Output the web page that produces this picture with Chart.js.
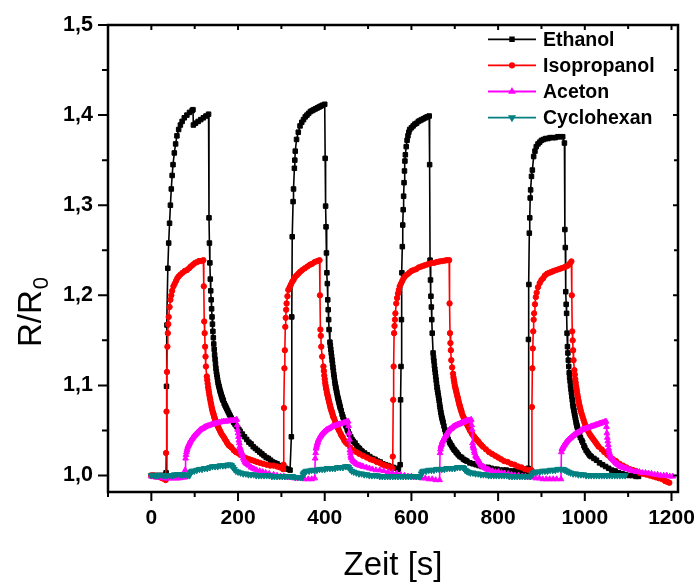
<!DOCTYPE html>
<html><head><meta charset="utf-8">
<script src="https://cdn.jsdelivr.net/npm/chart.js@4.4.0/dist/chart.umd.min.js"></script>
<style>html,body{margin:0;padding:0;background:#fff;}#wrap{width:698px;height:583px;}</style>
</head><body><div id="wrap"><canvas id="c" width="698" height="583"></canvas></div>
<script>
const xTicks=[0,200,400,600,800,1000,1200];
const xMinorTicks=[-100,100,300,500,700,900,1100];
const yTicks=[1.0,1.1,1.2,1.3,1.4,1.5];
const yMinorTicks=[1.05,1.15,1.25,1.35,1.45];
const seriesNames=['Ethanol','Isopropanol','Aceton','Cyclohexan'];
const xTitle='Zeit [s]';

// Ethanol: [time s, R/R0]
const ethanol=[[0,1.0],[5,1.0],[10,1.0],[15,1.0],[20,1.0],[25,1.0],[30,1.0],[34,1.003],[35,1.099],[36,1.167],[38,1.23],[40,1.258],[42,1.28],[44,1.3],[46,1.318],[48,1.333],[50,1.345],[53,1.358],[56,1.368],[59,1.377],[63,1.384],[67,1.389],[71,1.393],[76,1.397],[82,1.4],[88,1.403],[94,1.405],[96,1.406],[97,1.389],[102,1.391],[108,1.393],[114,1.395],[120,1.397],[126,1.399],[132,1.401],
[133,1.286],[134,1.258],[135,1.236],[136,1.218],[137,1.205],[138,1.195],[139,1.185],[140,1.176],[141,1.168],[142,1.16],[143,1.153],[144,1.146],[145,1.14],[146,1.134],[147,1.129],[148,1.124],[149,1.119],[150,1.115],[151,1.112],[152,1.109],[153,1.106],[154,1.103],[155,1.101],[156,1.099],[157,1.097],[158,1.095],[159,1.093],[160,1.092],[161,1.09],[162,1.088],[163,1.087],[164,1.085],[165,1.084],[166,1.083],[168,1.08],[170,1.078],[172,1.076],[174,1.074],[176,1.072],[178,1.07],[180,1.068],[182,1.066],[184,1.064],[186,1.062],[188,1.061],[190,1.059],[193,1.057],[196,1.055],[199,1.053],[202,1.051],[205,1.049],[210,1.046],[215,1.043],[220,1.04],[225,1.037],[230,1.035],[235,1.032],[240,1.03],[245,1.028],[250,1.026],[255,1.024],[260,1.022],[265,1.02],[270,1.019],[275,1.017],[280,1.015],[285,1.014],[290,1.013],[295,1.011],[300,1.01],[305,1.009],[310,1.008],[315,1.007],[320,1.006],
[323,1.043],[324,1.176],[325,1.265],[327,1.304],[328,1.318],[330,1.341],[331,1.35],[332,1.36],[335,1.373],[339,1.381],[343,1.388],[347,1.392],[351,1.395],[355,1.398],[359,1.4],[363,1.402],[367,1.404],[371,1.405],[375,1.406],[379,1.407],[383,1.408],[387,1.409],[391,1.41],[395,1.411],[400,1.412],
[401,1.352],[402,1.299],[403,1.276],[404,1.247],[405,1.225],[406,1.213],[407,1.195],[408,1.184],[409,1.173],[410,1.162],[412,1.148],[413,1.144],[414,1.14],[415,1.136],[416,1.132],[417,1.128],[418,1.124],[419,1.12],[420,1.116],[421,1.112],[422,1.109],[423,1.105],[424,1.102],[425,1.099],[426,1.097],[427,1.094],[428,1.092],[429,1.089],[430,1.087],[431,1.085],[432,1.083],[433,1.081],[434,1.079],[435,1.077],[436,1.075],[438,1.072],[440,1.068],[442,1.065],[444,1.062],[446,1.059],[448,1.056],[450,1.054],[452,1.051],[454,1.049],[457,1.046],[460,1.043],[463,1.04],[466,1.038],[470,1.036],[474,1.033],[477,1.031],[480,1.03],[483,1.028],[486,1.027],[492,1.025],[498,1.023],[504,1.021],[510,1.019],[516,1.018],[522,1.016],[528,1.015],[534,1.013],[540,1.012],[546,1.011],[552,1.01],[558,1.009],[564,1.008],[570,1.007],
[574,1.012],[575,1.084],[576,1.121],[577,1.173],[578,1.225],[579,1.254],[580,1.278],[581,1.295],[582,1.31],[583,1.325],[584,1.338],[585,1.349],[586,1.356],[588,1.365],[590,1.372],[592,1.377],[594,1.381],[596,1.384],[600,1.386],[604,1.388],[608,1.39],[612,1.391],[616,1.393],[620,1.394],[624,1.395],[628,1.396],[632,1.397],[636,1.398],[641,1.399],
[642,1.345],[643,1.239],[644,1.217],[645,1.199],[646,1.187],[647,1.173],[648,1.158],[650,1.136],[651,1.131],[652,1.127],[653,1.122],[654,1.118],[655,1.114],[656,1.11],[657,1.106],[658,1.102],[659,1.098],[660,1.095],[661,1.092],[662,1.089],[663,1.086],[664,1.083],[665,1.079],[666,1.076],[667,1.073],[668,1.07],[669,1.067],[670,1.065],[671,1.063],[672,1.061],[673,1.059],[675,1.055],[677,1.051],[679,1.048],[681,1.045],[683,1.042],[685,1.04],[688,1.037],[690,1.035],[693,1.033],[695,1.031],[698,1.029],[700,1.028],[703,1.026],[705,1.025],[708,1.023],[712,1.021],[716,1.02],[720,1.018],[724,1.017],[728,1.016],[735,1.014],[742,1.013],[749,1.012],[756,1.011],[763,1.01],[770,1.009],[777,1.009],[784,1.008],[791,1.007],[798,1.007],[805,1.006],[812,1.006],[819,1.006],[826,1.005],[833,1.005],[840,1.005],[847,1.005],[854,1.004],[861,1.004],[868,1.004],
[869,1.008],[870,1.151],[871,1.212],[872,1.269],[873,1.286],[874,1.308],[875,1.317],[877,1.332],[879,1.339],[882,1.354],[885,1.36],[888,1.365],[892,1.368],[896,1.37],[900,1.372],[905,1.373],[910,1.374],[915,1.374],[920,1.375],[926,1.375],[932,1.375],[938,1.376],[944,1.376],[949,1.376],[953,1.369],
[954,1.273],[955,1.253],[956,1.204],[957,1.19],[958,1.18],[959,1.158],[960,1.143],[961,1.136],[962,1.128],[963,1.121],[964,1.114],[965,1.109],[966,1.105],[967,1.1],[968,1.096],[969,1.092],[970,1.088],[971,1.084],[972,1.08],[973,1.077],[974,1.075],[975,1.072],[976,1.069],[977,1.067],[978,1.064],[979,1.062],[980,1.059],[981,1.057],[982,1.055],[983,1.053],[984,1.051],[986,1.048],[988,1.045],[990,1.042],[993,1.039],[995,1.037],[998,1.033],[1000,1.031],[1003,1.028],[1006,1.026],[1009,1.024],[1012,1.022],[1015,1.021],[1021,1.019],[1027,1.017],[1034,1.014],[1041,1.012],[1048,1.01],[1055,1.008],[1062,1.006],[1070,1.005],[1078,1.003],[1086,1.002],[1094,1.001],[1102,1.0],[1110,1.0],[1118,0.999],[1124,0.999]];

const isopropanol=[[0,1.0],[5,1.0],[10,0.999],[15,0.999],[20,0.998],[25,0.997],[30,0.996],[33,0.995],[34,1.025],[35,1.071],[36,1.115],[37,1.143],[38,1.158],[39,1.168],[40,1.176],[42,1.187],[44,1.195],[46,1.2],[48,1.205],[51,1.21],[54,1.213],[57,1.216],[60,1.219],[63,1.221],[67,1.223],[72,1.225],[77,1.227],[82,1.228],[87,1.23],[91,1.232],[96,1.234],[101,1.236],[106,1.237],[110,1.238],[115,1.238],[120,1.239],
[121,1.21],[122,1.171],[123,1.158],[124,1.143],[125,1.132],[126,1.121],[128,1.11],[129,1.106],[130,1.102],[131,1.098],[132,1.095],[133,1.092],[134,1.089],[135,1.086],[136,1.084],[137,1.081],[138,1.079],[139,1.076],[140,1.074],[141,1.072],[142,1.07],[143,1.069],[144,1.067],[145,1.065],[146,1.064],[147,1.062],[148,1.061],[149,1.059],[150,1.058],[152,1.056],[154,1.054],[156,1.052],[158,1.05],[160,1.048],[162,1.046],[165,1.044],[168,1.042],[170,1.04],[173,1.038],[175,1.036],[178,1.034],[180,1.033],[183,1.032],[185,1.031],[190,1.028],[195,1.026],[200,1.025],[205,1.023],[210,1.022],[215,1.02],[220,1.019],[226,1.018],[232,1.017],[238,1.016],[244,1.015],[251,1.014],[258,1.013],[266,1.012],[274,1.011],[282,1.011],[290,1.01],[297,1.009],[304,1.007],
[305,1.012],[306,1.075],[307,1.119],[308,1.139],[309,1.165],[310,1.175],[311,1.184],[312,1.191],[314,1.199],[316,1.206],[319,1.209],[322,1.212],[325,1.215],[328,1.217],[331,1.22],[335,1.222],[339,1.224],[343,1.226],[348,1.228],[354,1.23],[360,1.232],[366,1.234],[371,1.235],[377,1.237],[383,1.238],[388,1.239],
[389,1.2],[390,1.162],[391,1.155],[392,1.143],[394,1.132],[397,1.121],[398,1.116],[399,1.111],[400,1.107],[401,1.103],[402,1.1],[403,1.097],[404,1.095],[405,1.092],[406,1.09],[407,1.088],[408,1.086],[409,1.084],[410,1.082],[411,1.08],[412,1.078],[413,1.076],[414,1.074],[415,1.073],[416,1.071],[417,1.07],[418,1.068],[419,1.066],[420,1.065],[422,1.063],[424,1.06],[426,1.058],[428,1.055],[430,1.053],[432,1.051],[434,1.049],[437,1.046],[439,1.044],[442,1.042],[445,1.039],[448,1.037],[452,1.035],[459,1.031],[466,1.028],[473,1.026],[480,1.024],[488,1.022],[497,1.02],[505,1.018],[512,1.017],[520,1.015],[527,1.014],[534,1.012],[540,1.011],[546,1.01],[552,1.009],[556,1.008],
[557,1.021],[558,1.084],[559,1.121],[560,1.158],[561,1.166],[562,1.173],[563,1.18],[565,1.191],[567,1.197],[569,1.202],[571,1.206],[573,1.21],[576,1.213],[579,1.216],[582,1.219],[585,1.221],[590,1.223],[595,1.225],[600,1.227],[605,1.228],[611,1.229],[617,1.231],[623,1.232],[629,1.233],[635,1.234],[641,1.235],[647,1.236],[653,1.236],[659,1.237],[665,1.2376],[671,1.238],[677,1.2385],[682,1.239],[687,1.239],
[688,1.191],[689,1.158],[690,1.147],[691,1.139],[692,1.128],[694,1.12],[696,1.113],[697,1.109],[698,1.106],[699,1.103],[700,1.1],[701,1.098],[702,1.096],[703,1.094],[704,1.092],[705,1.09],[706,1.088],[707,1.086],[708,1.084],[709,1.082],[710,1.08],[711,1.078],[712,1.077],[713,1.075],[714,1.073],[715,1.072],[716,1.07],[718,1.067],[720,1.065],[722,1.063],[724,1.061],[726,1.059],[728,1.057],[730,1.055],[732,1.053],[735,1.05],[738,1.048],[740,1.046],[743,1.044],[745,1.043],[748,1.041],[750,1.04],[754,1.038],[757,1.036],[761,1.034],[765,1.032],[772,1.029],[779,1.026],[786,1.024],[793,1.022],[800,1.02],[807,1.018],[814,1.016],[822,1.015],[830,1.013],[838,1.012],[846,1.01],[854,1.009],[862,1.007],[870,1.006],[877,1.006],
[878,1.076],[879,1.119],[880,1.141],[881,1.16],[882,1.173],[883,1.18],[885,1.19],[887,1.198],[889,1.203],[892,1.209],[896,1.2136],[900,1.217],[904,1.219],[908,1.222],[913,1.224],[918,1.225],[923,1.226],[928,1.227],[934,1.228],[940,1.229],[946,1.23],[952,1.231],[957,1.232],[961,1.233],[965,1.235],[969,1.2376],
[970,1.2],[971,1.16],[972,1.15],[973,1.139],[974,1.128],[976,1.117],[977,1.112],[978,1.107],[979,1.103],[980,1.099],[981,1.096],[982,1.093],[983,1.09],[984,1.087],[985,1.084],[986,1.082],[987,1.079],[988,1.077],[989,1.075],[990,1.073],[991,1.071],[993,1.068],[995,1.065],[997,1.062],[999,1.059],[1001,1.056],[1003,1.054],[1005,1.052],[1008,1.049],[1011,1.046],[1014,1.044],[1017,1.042],[1020,1.04],[1023,1.038],[1026,1.036],[1029,1.034],[1032,1.032],[1039,1.029],[1045,1.026],[1052,1.023],[1059,1.02],[1065,1.018],[1072,1.016],[1080,1.013],[1088,1.011],[1096,1.009],[1104,1.007],[1111,1.006],[1118,1.005],[1126,1.003],[1134,1.002],[1142,1.001],[1150,1.0],[1157,0.999],[1164,0.998],[1171,0.997],[1178,0.996],[1185,0.994],[1190,0.993],[1195,0.992]];

const aceton=[[0,0.999],[5,0.999],[10,0.998],[15,0.998],[20,0.998],[25,0.998],[30,0.997],[35,0.997],[40,0.997],[45,0.997],[50,0.997],[55,0.997],[60,0.997],[65,0.997],[70,0.998],[75,0.998],[77,0.998],
[78,1.006],[79,1.019],[80,1.023],[81,1.026],[82,1.028],[83,1.03],[84,1.032],[85,1.033],[86,1.034],[87,1.035],[88,1.036],[89,1.037],[90,1.038],[91,1.039],[93,1.04],[94,1.041],[96,1.042],[97,1.043],[99,1.044],[101,1.045],[103,1.046],[105,1.047],[107,1.048],[109,1.049],[111,1.05],[113,1.051],[116,1.0515],[118,1.052],[121,1.053],[124,1.054],[127,1.0545],[130,1.055],[133,1.0555],[136,1.056],[139,1.0565],[142,1.057],[146,1.0575],[150,1.058],[154,1.0585],[158,1.059],[162,1.0595],[166,1.06],[170,1.06],[174,1.06],[178,1.0605],[182,1.061],[186,1.061],[190,1.061],[194,1.0615],[197,1.062],
[198,1.056],[199,1.051],[200,1.047],[201,1.043],[202,1.039],[203,1.036],[204,1.032],[205,1.03],[206,1.029],[207,1.027],[208,1.026],[209,1.024],[210,1.022],[212,1.019],[214,1.017],[216,1.015],[218,1.014],[220,1.013],[223,1.012],[226,1.011],[230,1.009],[234,1.008],[238,1.007],[243,1.006],[250,1.005],[257,1.004],[264,1.003],[272,1.002],[282,1.001],[290,1.0],[298,0.999],[306,0.999],[314,0.998],[322,0.998],[330,0.997],[338,0.997],[346,0.997],[354,0.996],[362,0.996],[370,0.996],[377,0.997],
[378,1.019],[379,1.025],[380,1.03],[381,1.032],[382,1.034],[383,1.036],[384,1.037],[385,1.039],[386,1.04],[388,1.042],[389,1.043],[391,1.044],[392,1.045],[394,1.046],[396,1.047],[398,1.048],[400,1.049],[403,1.05],[405,1.051],[408,1.0515],[410,1.052],[413,1.053],[416,1.054],[419,1.0545],[422,1.055],[425,1.0555],[428,1.056],[431,1.0565],[434,1.057],[438,1.0575],[441,1.058],[444,1.0585],[447,1.059],[451,1.0595],[454,1.06],
[455,1.055],[456,1.047],[457,1.04],[458,1.028],[459,1.025],[460,1.022],[461,1.02],[462,1.019],[464,1.017],[466,1.016],[468,1.015],[471,1.014],[473,1.013],[476,1.012],[479,1.0115],[482,1.011],[486,1.0104],[489,1.0098],[496,1.009],[503,1.008],[510,1.007],[518,1.006],[527,1.006],[536,1.005],[546,1.004],[556,1.003],[566,1.0024],[575,1.001],[584,1.0],[592,0.999],[600,0.999],[608,0.998],[616,0.998],[624,0.997],[632,0.997],[640,0.996],[648,0.996],[656,0.995],[665,0.995],
[666,1.025],[667,1.029],[668,1.032],[669,1.034],[670,1.035],[671,1.037],[672,1.038],[674,1.04],[675,1.041],[677,1.043],[679,1.044],[680,1.045],[682,1.0465],[684,1.048],[686,1.0495],[688,1.051],[690,1.0515],[692,1.052],[694,1.053],[696,1.054],[698,1.0545],[700,1.055],[702,1.0555],[704,1.056],[707,1.0565],[709,1.057],[712,1.0575],[714,1.058],[717,1.0585],[719,1.059],[722,1.0595],[724,1.06],[727,1.0605],[729,1.061],[732,1.061],[734,1.061],[736,1.0615],[738,1.062],
[739,1.056],[740,1.051],[741,1.036],[742,1.033],[743,1.031],[744,1.03],[745,1.027],[746,1.025],[748,1.022],[749,1.021],[751,1.02],[752,1.019],[754,1.017],[755,1.016],[757,1.015],[758,1.0136],[760,1.012],[762,1.011],[765,1.01],[768,1.009],[771,1.008],[774,1.007],[777,1.0065],[780,1.006],[787,1.005],[794,1.004],[801,1.004],[808,1.003],[815,1.0024],[823,1.002],[831,1.001],[839,1.0],[847,1.0],[855,0.999],[863,0.999],[871,0.998],[879,0.998],[887,0.997],[895,0.997],[903,0.996],[911,0.996],[919,0.996],[927,0.996],[935,0.996],[945,0.996],
[946,1.026],[947,1.029],[948,1.03],[949,1.031],[950,1.032],[951,1.033],[953,1.034],[954,1.035],[956,1.036],[957,1.037],[959,1.038],[961,1.039],[963,1.04],[965,1.041],[968,1.042],[970,1.043],[973,1.044],[975,1.045],[978,1.046],[980,1.047],[983,1.0475],[985,1.048],[988,1.049],[990,1.05],[993,1.0505],[995,1.051],[998,1.0515],[1001,1.052],[1004,1.0525],[1007,1.053],[1010,1.0535],[1013,1.054],[1016,1.0545],[1019,1.055],[1022,1.0555],[1025,1.056],[1028,1.0565],[1031,1.057],[1034,1.0575],[1037,1.058],[1040,1.0585],[1043,1.059],[1046,1.0595],[1049,1.06],
[1050,1.054],[1051,1.047],[1052,1.042],[1053,1.038],[1054,1.034],[1055,1.03],[1056,1.027],[1057,1.025],[1058,1.023],[1060,1.021],[1062,1.019],[1064,1.018],[1066,1.017],[1068,1.016],[1070,1.0148],[1072,1.0136],[1075,1.0127],[1077,1.012],[1080,1.011],[1082,1.01],[1085,1.0095],[1087,1.009],[1090,1.0085],[1093,1.008],[1096,1.0075],[1099,1.007],[1105,1.006],[1112,1.005],[1119,1.004],[1126,1.004],[1133,1.003],[1140,1.003],[1147,1.0024],[1154,1.002],[1161,1.001],[1168,1.001],[1175,1.0],[1182,1.0],[1189,1.0],[1196,0.999],[1203,0.999]];

const cyclohexan=[[0,1.0],[6,1.0],[12,1.0],[18,1.0],[24,1.0],[30,1.0],[36,1.0],[42,1.0],[48,1.0],[54,1.001],[60,1.001],[66,1.001],[72,1.001],[78,1.001],[84,1.0],[88,1.0],[90,1.003],[92,1.004],[94,1.005],[99,1.005],[105,1.006],[111,1.007],[117,1.007],[123,1.008],[129,1.008],[135,1.009],[141,1.01],[147,1.01],[153,1.01],[159,1.011],[165,1.011],[171,1.011],[177,1.012],[182,1.012],[185,1.011],[188,1.009],[191,1.007],[195,1.005],[200,1.004],[206,1.003],[212,1.002],[218,1.002],[224,1.001],[230,1.001],[236,1.001],[242,1.0],[248,1.0],[254,1.0],[260,1.0],[266,1.0],[272,1.0],[278,0.999],[284,0.999],[290,0.999],[296,0.999],[302,0.999],[308,0.999],[314,0.999],[320,0.999],[326,0.999],[332,0.998],[338,0.998],[344,0.998],[348,0.998],
[350,1.001],[352,1.003],[355,1.004],[358,1.005],[364,1.005],[370,1.006],[376,1.006],[382,1.006],[388,1.007],[394,1.007],[400,1.007],[406,1.008],[412,1.008],[418,1.008],[424,1.008],[430,1.009],[436,1.009],[442,1.009],[448,1.01],[452,1.01],[455,1.009],[458,1.007],[462,1.005],[467,1.004],[473,1.003],[479,1.002],[485,1.002],[491,1.001],[497,1.001],[503,1.0],[509,1.0],[515,1.0],[521,1.0],[527,0.999],[533,0.999],[539,0.999],[545,0.999],[551,0.999],[557,0.999],[563,0.999],[569,0.999],[575,0.999],[581,0.999],[587,0.999],[593,0.999],[599,0.999],[605,0.999],[611,0.999],[617,0.999],[621,0.999],
[623,1.002],[625,1.004],[628,1.005],[634,1.005],[640,1.006],[646,1.006],[652,1.006],[658,1.007],[664,1.007],[670,1.007],[676,1.007],[682,1.008],[688,1.008],[694,1.008],[700,1.008],[706,1.009],[712,1.009],[718,1.009],[721,1.008],[724,1.006],[727,1.005],[731,1.004],[736,1.003],[742,1.003],[748,1.002],[754,1.002],[760,1.001],[766,1.001],[772,1.001],[778,1.0],[784,1.0],[790,1.0],[796,1.0],[802,1.0],[808,1.0],[814,1.0],[820,1.0],[826,0.999],[832,0.999],[838,0.999],[844,0.999],[850,0.999],[856,0.999],[862,0.999],[868,0.999],[874,0.999],
[878,1.001],[882,1.003],[886,1.004],[890,1.004],[896,1.004],[902,1.005],[908,1.005],[914,1.005],[920,1.006],[926,1.006],[932,1.006],[938,1.007],[944,1.007],[950,1.007],[954,1.006],[958,1.005],[962,1.004],[967,1.003],[973,1.002],[979,1.002],[985,1.001],[991,1.001],[997,1.001],[1003,1.0],[1009,1.0],[1015,1.0],[1021,1.0],[1027,1.0],[1033,1.0],[1039,1.0],[1045,1.0],[1051,1.0],[1057,1.0],[1063,1.0],[1069,1.0],[1075,1.0],[1081,1.0],[1087,1.0],[1093,1.0]];

const colors=['#000000','#ff0000','#ff00ff','#008080'];
const styles=[{ps:'rect',r:3.2,rot:0},{ps:'circle',r:2.7,rot:0},{ps:'triangle',r:3.3,rot:0},{ps:'triangle',r:3.6,rot:180}];
const allSeries=[ethanol,isopropanol,aceton,cyclohexan];
const FONT='"Liberation Sans", Arial, sans-serif';
const fmt=v=>v.toFixed(1).replace('.',',');

const datasets=allSeries.map((s,i)=>({
  label:seriesNames[i],
  data:s.map(p=>({x:p[0],y:p[1]})),
  borderColor:colors[i],backgroundColor:colors[i],
  borderWidth:1.6,pointStyle:styles[i].ps,pointRadius:styles[i].r,pointRotation:styles[i].rot,
  pointBorderWidth:1,pointBorderColor:colors[i],pointBackgroundColor:colors[i],
  tension:0,order:4-i
}));

const framePlugin={id:'frame',afterDatasetsDraw(chart){
  const {ctx,chartArea:a,scales}=chart;const x=scales.x,y=scales.y;
  ctx.save();ctx.strokeStyle='#000';ctx.lineWidth=2.5;
  ctx.strokeRect(a.left,a.top,a.right-a.left,a.bottom-a.top);
  ctx.lineWidth=2;ctx.beginPath();
  const xt=(vals,lo,hi)=>vals.forEach(v=>{const p=x.getPixelForValue(v);ctx.moveTo(p,a.bottom);ctx.lineTo(p,a.bottom+lo);ctx.moveTo(p,a.top);ctx.lineTo(p,a.top+hi);});
  const yt=(vals,lo,hi)=>vals.forEach(v=>{const p=y.getPixelForValue(v);ctx.moveTo(a.left,p);ctx.lineTo(a.left-lo,p);ctx.moveTo(a.right,p);ctx.lineTo(a.right-hi,p);});
  xt(xTicks,9,5);xt(xMinorTicks,5,4);yt(yTicks,10,5);yt(yMinorTicks,6,4);
  ctx.stroke();
  ctx.fillStyle='#000';ctx.font='33px '+FONT;ctx.textAlign='center';ctx.textBaseline='alphabetic';
  ctx.fillText(xTitle,(a.left+a.right)/2,575);
  ctx.translate(41,347);ctx.rotate(-Math.PI/2);ctx.textAlign='left';
  ctx.fillText('R/R',0,0);const w=ctx.measureText('R/R').width;
  ctx.font='22px '+FONT;ctx.fillText('0',w+1,7);
  ctx.restore();
}};
const legendPlugin={id:'lgd',afterDraw(chart){
  const ctx=chart.ctx;ctx.save();
  seriesNames.forEach((n,i)=>{
    const yy=39.3+i*26.1;
    ctx.strokeStyle=colors[i];ctx.fillStyle=colors[i];ctx.lineWidth=1.8;ctx.beginPath();ctx.moveTo(488,yy);ctx.lineTo(536,yy);ctx.stroke();
    Chart.helpers.drawPoint(ctx,{pointStyle:styles[i].ps,radius:styles[i].r*0.8,rotation:styles[i].rot,borderWidth:1},512,yy);
    ctx.fillStyle='#000';ctx.font='bold 19.5px '+FONT;ctx.textAlign='left';ctx.textBaseline='middle';
    ctx.fillText(n,543,yy+1);
  });
  ctx.restore();
}};

new Chart(document.getElementById('c'),{
  type:'line',
  data:{datasets},
  options:{
    responsive:false,animation:false,
    layout:{padding:{left:0,right:20,top:25,bottom:0}},
    plugins:{legend:{display:false},tooltip:{enabled:false}},
    scales:{
      x:{type:'linear',min:-100,max:1215,
        afterFit(s){s.height=91;s.paddingLeft=0;s.paddingRight=0;},
        afterBuildTicks(s){s.ticks=xTicks.map(v=>({value:v}));},
        grid:{display:false,drawTicks:false},border:{display:false},
        ticks:{padding:14,color:'#000',font:{family:FONT,size:21,weight:'bold'},callback:v=>String(v),maxRotation:0,autoSkip:false}},
      y:{type:'linear',min:0.9817,max:1.5,
        afterFit(s){s.width=108;s.paddingTop=0;s.paddingBottom=0;},
        afterBuildTicks(s){s.ticks=yTicks.map(v=>({value:v}));},
        grid:{display:false,drawTicks:false},border:{display:false},
        ticks:{padding:15,color:'#000',font:{family:FONT,size:21.5,weight:'bold'},callback:v=>fmt(v),autoSkip:false}}
    }
  },
  plugins:[framePlugin,legendPlugin]
});
</script></body></html>
